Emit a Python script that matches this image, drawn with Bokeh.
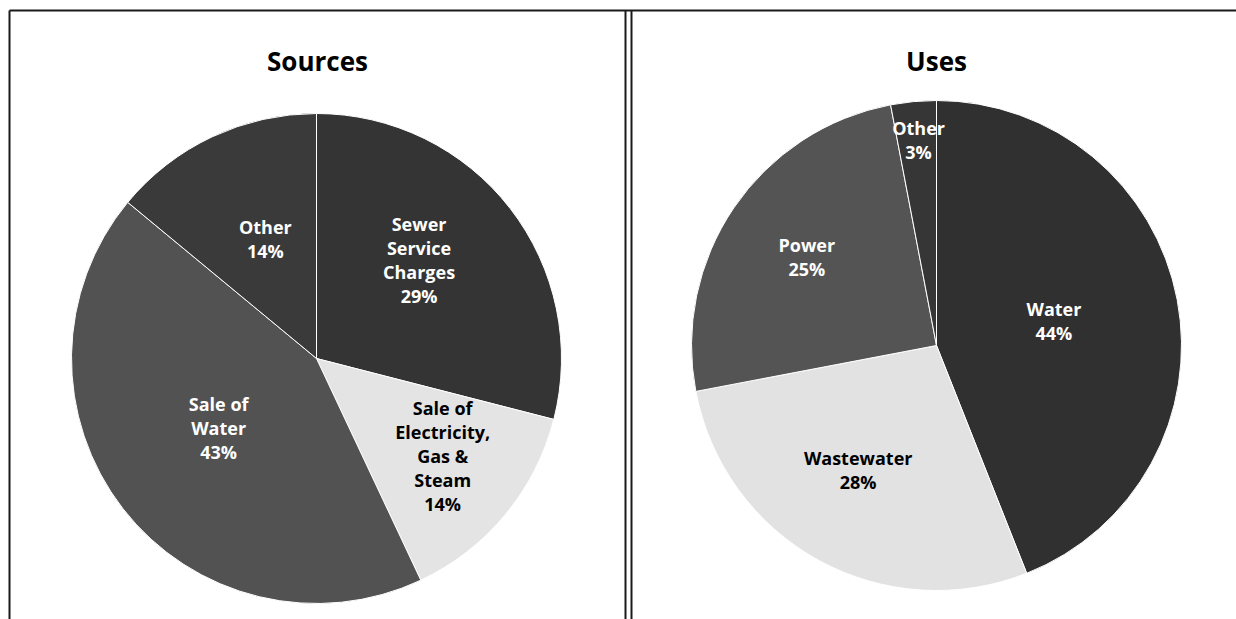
import numpy as np
from bokeh.plotting import figure
from bokeh.models import Range1d, ColumnDataSource
from bokeh.core.properties import value
from bokeh.embed import file_html
from bokeh.resources import INLINE

# ---------------- data ----------------
titles = ["Sources", "Uses"]

src_names = ["Sewer Service Charges", "Sale of Electricity, Gas & Steam", "Sale of Water", "Other"]
src_label_text = ["Sewer\nService\nCharges", "Sale of\nElectricity,\nGas &\nSteam", "Sale of\nWater", "Other"]
src_pct = [29, 14, 43, 14]

use_names = ["Water", "Wastewater", "Power", "Other"]
use_label_text = ["Water", "Wastewater", "Power", "Other"]
use_pct = [44, 28, 25, 3]

# ---------------- styling / layout ----------------
src_colors = ["#343434", "#e4e4e4", "#525252", "#3a3a3a"]
src_text_colors = ["white", "black", "white", "white"]
src_label_r = [0.58, 0.65, 0.49, 0.53]
src_label_tweak = [6, 2, -2.4, -2]

use_colors = ["#303030", "#e2e2e2", "#545454", "#363636"]
use_text_colors = ["white", "black", "white", "white"]
use_label_r = [0.49, 0.60, 0.64, 0.84]
use_label_tweak = [1.2, -3.4, 0, -0.4]

W, H = 1236, 619
FONT = value("Open Sans")


def ref(x, y):
    """convert reference-image pixel coords to data coords"""
    return x, H - y


p = figure(width=W, height=H, x_range=Range1d(0, W), y_range=Range1d(0, H),
           output_backend="svg", toolbar_location=None, min_border=0)
p.axis.visible = False
p.grid.visible = False
p.outline_line_color = None
p.background_fill_color = "white"
p.border_fill_color = "white"

# panel borders
border_xs, border_ys = [], []
for (x0, y0), (x1, y1) in [((9, 10), (1236, 10)), ((9, 10), (9, 619)),
                           ((625, 10), (625, 619)), ((631, 10), (631, 619))]:
    a, b = ref(x0, y0), ref(x1, y1)
    border_xs.append([a[0], b[0]])
    border_ys.append([a[1], b[1]])
p.multi_line(xs=border_xs, ys=border_ys, line_color="#1a1a1a", line_width=2)


def pie(center, r, names, label_text, pcts, colors, text_colors, label_r, tweak):
    cx, cy = center
    frac = np.array(pcts, dtype=float) / sum(pcts)
    cum = np.concatenate([[0.0], np.cumsum(frac)])
    start = np.pi / 2 - 2 * np.pi * cum[:-1]
    end = np.pi / 2 - 2 * np.pi * cum[1:]
    src = ColumnDataSource(dict(start=start, end=end, color=colors, name=names))
    p.wedge(x=cx, y=cy, radius=r, start_angle="start", end_angle="end",
            direction="clock", fill_color="color", line_color="white",
            line_width=1, source=src)
    mid = (start + end) / 2 + np.radians(tweak)
    lr = np.array(label_r) * r
    lx = cx + lr * np.cos(mid)
    ly = cy + lr * np.sin(mid)
    texts = [f"{t}\n{v}%" for t, v in zip(label_text, pcts)]
    lsrc = ColumnDataSource(dict(x=lx, y=ly, text=texts, color=text_colors))
    p.text(x="x", y="y", text="text", text_color="color", source=lsrc,
           text_align="center", text_baseline="middle", text_font=FONT,
           text_font_style="bold", text_font_size="18px", text_line_height=1.0)


pie(ref(316, 358), 245, src_names, src_label_text, src_pct, src_colors,
    src_text_colors, src_label_r, src_label_tweak)
pie(ref(936, 345), 245, use_names, use_label_text, use_pct, use_colors,
    use_text_colors, use_label_r, use_label_tweak)

# titles
tx = [ref(317, 60)[0], ref(936, 60)[0]]
ty = [ref(317, 60)[1], ref(936, 60)[1]]
p.text(x=tx, y=ty, text=titles, text_align="center", text_baseline="alphabetic",
       text_font=FONT, text_font_style="bold", text_font_size="26px",
       text_color="black")

open("out.html", "w").write(file_html(p, INLINE))
